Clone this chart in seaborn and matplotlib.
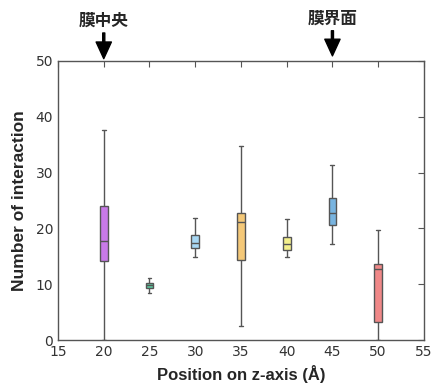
import matplotlib
matplotlib.use('Agg')
import matplotlib.pyplot as plt
import pandas as pd
import seaborn as sns

# posições no eixo z e resumo de 5 números (mín, q1, mediana, q3, máx)
posicoes = [20, 25, 30, 35, 40, 45, 50]
minimos = [0.0, 8.5, 14.9, 2.6, 14.9, 17.2, 0.0]
q1 = [14.2, 9.4, 16.5, 14.3, 16.1, 20.6, 3.3]
medianas = [17.8, 9.9, 17.3, 21.2, 17.2, 22.7, 12.7]
q3 = [24.0, 10.2, 18.9, 22.7, 18.4, 25.4, 13.7]
maximos = [37.6, 11.1, 21.9, 34.8, 21.7, 31.3, 19.8]
cores = ['#c87ae8', '#5ccaa0', '#a8d8f4', '#f4c878', '#f4f08c', '#78b4e0', '#f08888']

linhas = []
for i, p in enumerate(posicoes):
    for v in (minimos[i], q1[i], medianas[i], q3[i], maximos[i]):
        linhas.append({'pos': p, 'valor': v})
df = pd.DataFrame(linhas)

sns.set_style('white')
plt.rcParams['font.family'] = ['DejaVu Sans', 'Noto Sans CJK JP']

fig = plt.figure(figsize=(4.33, 3.83), dpi=100)
ax = fig.add_axes([0.134, 0.112, 0.845, 0.729])

sns.boxplot(data=df, x='pos', y='valor', hue='pos', palette=cores, legend=False,
            native_scale=True, whis=(0, 100), width=0.17, linewidth=1.0,
            linecolor='#555555', saturation=1, ax=ax)

ax.set_xlim(15, 55)
ax.set_ylim(0, 50)
ax.set_xticks([15, 20, 25, 30, 35, 40, 45, 50, 55])
ax.set_yticks([0, 10, 20, 30, 40, 50])
ax.tick_params(direction='in', length=4, top=True, right=True,
               labelsize=10, labelcolor='#333333', color='#555555')
for s in ax.spines.values():
    s.set_color('#555555')
    s.set_linewidth(1.0)

ax.set_xlabel('Position on z-axis (Å)', fontsize=12, fontweight='bold',
              family='Liberation Sans')
ax.set_ylabel('Number of interaction', fontsize=12.5, fontweight='bold',
              family='Liberation Sans', labelpad=6)

seta = dict(facecolor='black', edgecolor='black', width=1.5, headwidth=11,
            headlength=12, shrink=0.0)
ax.annotate('膜中央', xy=(20, 50.4), xytext=(20, 57.2), textcoords='data',
            ha='center', va='center', fontsize=12, fontweight='bold',
            family='Noto Sans CJK JP', arrowprops=seta, annotation_clip=False)
ax.annotate('膜界面', xy=(45, 50.9), xytext=(45, 57.6), textcoords='data',
            ha='center', va='center', fontsize=12, fontweight='bold',
            family='Noto Sans CJK JP', arrowprops=seta, annotation_clip=False)

fig.savefig('out.png', dpi=100)
